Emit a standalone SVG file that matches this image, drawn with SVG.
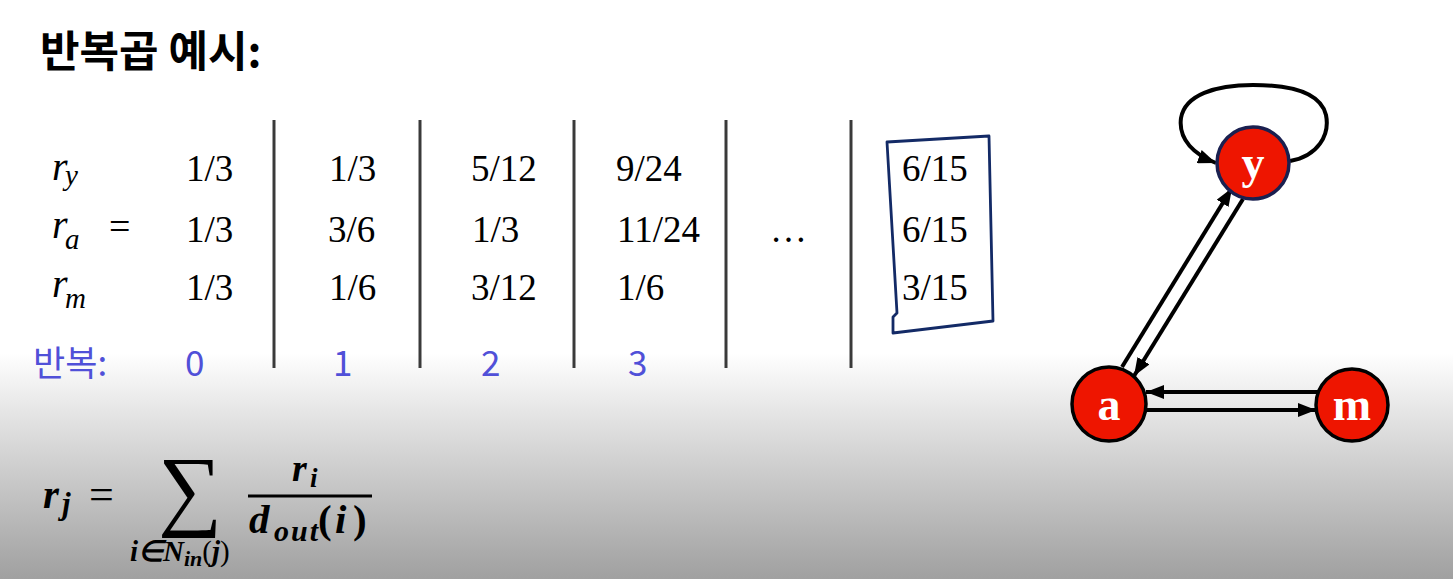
<svg xmlns="http://www.w3.org/2000/svg" width="1453" height="579" viewBox="0 0 1453 579">
<defs>
<linearGradient id="bg" x1="0" y1="0" x2="0" y2="579" gradientUnits="userSpaceOnUse">
<stop offset="0" stop-color="#ffffff"/>
<stop offset="0.61" stop-color="#ffffff"/>
<stop offset="0.70" stop-color="#e8e8e8"/>
<stop offset="0.82" stop-color="#cbcbcb"/>
<stop offset="1" stop-color="#a0a0a0"/>
</linearGradient>
<marker id="ah" viewBox="0 0 18 14" refX="18" refY="7" markerWidth="18" markerHeight="14" markerUnits="userSpaceOnUse" orient="auto">
<path d="M0,0 L18,7 L0,14 z" fill="#000"/>
</marker>
<style>
.title{font-family:"Noto Sans CJK KR","Noto Sans",sans-serif;font-weight:bold;font-size:43px;fill:#000}
.num{font-family:"Liberation Serif",serif;font-size:37px;fill:#000}
.var{font-family:"Liberation Serif",serif;font-style:italic;font-size:40px;fill:#000}
.sub{font-family:"Liberation Serif",serif;font-style:italic;font-size:29px;fill:#000}
.it{font-family:"Noto Sans CJK KR","Noto Sans",sans-serif;font-size:35px;fill:#5050d8}
.vline{stroke:#3a3a3a;stroke-width:3}
.eq{font-family:"Liberation Serif",serif;font-weight:bold;font-style:italic;fill:#000}
.up{font-style:normal}
.node{fill:#ee1500;stroke:#000;stroke-width:3.5}
.lbl{font-family:"Liberation Serif",serif;font-weight:bold;font-size:46px;fill:#fff;text-anchor:middle}
.edge{fill:none;stroke:#000;stroke-width:4;marker-end:url(#ah)}
</style>
</defs>
<rect x="0" y="0" width="1453" height="579" fill="url(#bg)"/>

<text class="title" x="40" y="67">반복곱 예시:</text>

<g id="table">
<text class="var" x="52" y="180">r</text><text class="sub" x="65" y="185">y</text>
<text class="var" x="52" y="238">r</text><text class="sub" x="65" y="249">a</text>
<text class="var" x="52" y="297">r</text><text class="sub" x="65" y="308">m</text>
<text class="num" x="109" y="239" style="font-size:38px">=</text>

<text class="num" x="186" y="181">1/3</text>
<text class="num" x="186" y="242">1/3</text>
<text class="num" x="186" y="300">1/3</text>

<text class="num" x="329" y="181">1/3</text>
<text class="num" x="328" y="242">3/6</text>
<text class="num" x="329" y="300">1/6</text>

<text class="num" x="471" y="181">5/12</text>
<text class="num" x="472" y="242">1/3</text>
<text class="num" x="471" y="300">3/12</text>

<text class="num" x="616" y="181">9/24</text>
<text class="num" x="617" y="242">11/24</text>
<text class="num" x="617" y="300">1/6</text>

<text class="num" x="770" y="242">…</text>

<text class="num" x="902" y="181">6/15</text>
<text class="num" x="902" y="242">6/15</text>
<text class="num" x="902" y="300">3/15</text>

<line class="vline" x1="274" y1="120" x2="274" y2="368"/>
<line class="vline" x1="420" y1="120" x2="420" y2="368"/>
<line class="vline" x1="574" y1="120" x2="574" y2="368"/>
<line class="vline" x1="726" y1="120" x2="726" y2="368"/>
<line class="vline" x1="851" y1="120" x2="851" y2="368"/>

<path d="M887,142 L989,136 L993,321 L893,333 L893,317 L897,313 Z" fill="none" stroke="#132a66" stroke-width="2.8" stroke-linejoin="round"/>

<text class="it" x="33" y="376">반복:</text>
<text class="it" x="185" y="376">0</text>
<text class="it" x="333" y="376">1</text>
<text class="it" x="481" y="376">2</text>
<text class="it" x="628" y="376">3</text>
</g>

<g id="formula">
<text class="eq" x="43" y="508" style="font-size:41px">r</text>
<text class="eq" x="62" y="514" style="font-size:31px">j</text>
<text class="eq up" x="89" y="509" style="font-size:44px;font-weight:normal">=</text>
<text x="158" y="519" style="font-family:'Liberation Serif',serif;font-size:90px;fill:#000">∑</text>
<text class="eq" x="130" y="561" style="font-size:29px">i∈N<tspan style="font-size:22px" dy="5">in</tspan><tspan dy="-5" class="up" style="font-weight:normal">(</tspan>j<tspan class="up" style="font-weight:normal">)</tspan></text>
<text class="eq" x="292" y="481" style="font-size:38px">r</text>
<text class="eq" x="310" y="487" style="font-size:27px">i</text>
<line x1="248" y1="496" x2="372" y2="496" stroke="#000" stroke-width="3"/>
<text class="eq" x="249" y="533" style="font-size:41px">d</text>
<text class="eq" x="274" y="541" style="font-size:30px" textLength="44">out</text>
<text class="eq" y="533" style="font-size:41px"><tspan class="up" x="318">(</tspan><tspan x="335">i</tspan><tspan class="up" x="353">)</tspan></text>
</g>

<g id="connectors">
<path class="edge" d="M1290,161 C1318,156 1330,135 1326,115 C1320,90 1285,85 1253,85 C1215,85 1185,95 1181,118 C1178,140 1195,155 1216,163"/>
<path class="edge" d="M1122,367 L1232,188"/>
<path class="edge" d="M1243,199 L1134,376"/>
<path class="edge" d="M1318,392 L1146,392"/>
<path class="edge" d="M1145,410 L1316,410"/>
</g>

<g id="node-y">
<circle class="node" cx="1253" cy="163" r="36" style="stroke:#1a2050"/>
<text class="lbl" x="1253" y="178">y</text>
</g>
<g id="node-a">
<circle class="node" cx="1109" cy="404" r="37"/>
<text class="lbl" x="1109" y="420">a</text>
</g>
<g id="node-m">
<circle class="node" cx="1352" cy="405" r="36"/>
<text class="lbl" x="1352" y="420">m</text>
</g>
</svg>
